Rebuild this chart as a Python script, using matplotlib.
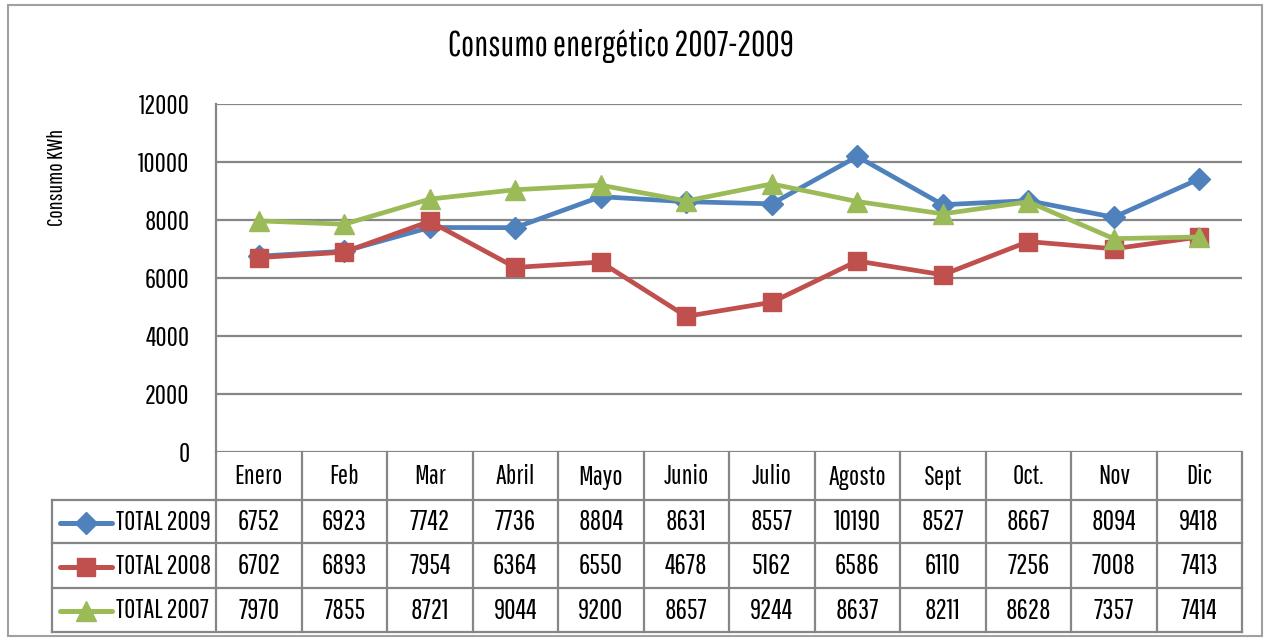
import numpy as np
import matplotlib.pyplot as plt
from matplotlib.lines import Line2D
from matplotlib.patches import Rectangle

plt.rcParams['font.family'] = ['Pathway Gothic One', 'DejaVu Sans']

meses = ['Enero', 'Feb', 'Mar', 'Abril', 'Mayo', 'Junio', 'Julio',
         'Agosto', 'Sept', 'Oct.', 'Nov', 'Dic']
total_2009 = [6752, 6923, 7742, 7736, 8804, 8631, 8557, 10190, 8527, 8667, 8094, 9418]
total_2008 = [6702, 6893, 7954, 6364, 6550, 4678, 5162, 6586, 6110, 7256, 7008, 7413]
total_2007 = [7970, 7855, 8721, 9044, 9200, 8657, 9244, 8637, 8211, 8628, 7357, 7414]

series = [
    ('TOTAL 2009', total_2009, '#4F81BD', 'D', 11),
    ('TOTAL 2008', total_2008, '#C0504D', 's', 13),
    ('TOTAL 2007', total_2007, '#9BBB59', '^', 14),
]

W, H = 1270, 641
fig = plt.figure(figsize=(W / 100, H / 100), dpi=100)

# pixel-space overlay for border, table and labels
ov = fig.add_axes([0, 0, 1, 1], zorder=0)
ov.set_xlim(0, W)
ov.set_ylim(H, 0)
ov.axis('off')

grid_c = '#868686'
ov.add_patch(Rectangle((8, 5), 1254, 631, fill=False, ec='#A0A0A0', lw=1.5))

# plot area
x0, x1 = 216, 1242
y_top, y_bot = 104, 452
ax = fig.add_axes([x0 / W, 1 - y_bot / H, (x1 - x0) / W, (y_bot - y_top) / H], zorder=2)
ax.patch.set_alpha(0)
x = np.arange(len(meses))
for name, vals, col, mk, ms in series:
    ax.plot(x, vals, color=col, lw=3.4, marker=mk, ms=ms, mec=col, mfc=col,
            solid_joinstyle='round')
ax.set_xlim(-0.5, len(meses) - 0.5)
ax.set_ylim(0, 12000)
ax.set_yticks(np.arange(0, 12001, 2000))
ax.set_xticks([])
ax.yaxis.grid(True, color=grid_c, lw=1.6)
ax.set_axisbelow(True)
for s in ['top', 'right', 'bottom']:
    ax.spines[s].set_visible(False)
ax.spines['left'].set_color(grid_c)
ax.spines['left'].set_linewidth(1.6)
ax.tick_params(axis='y', length=0, pad=19, labelsize=19.5)

ov.text(621, 46, 'Consumo energético 2007-2009', ha='center', va='center', fontsize=25)
ov.text(57, 177, 'Consumo KWh', rotation=90, ha='center', va='center', fontsize=16)

# data table
row_y = [452, 500, 543, 588, 632]
leg_x = 52
col_edges = np.linspace(x0, x1, len(meses) + 1)
lw_t = 1.6
# horizontal lines
for yy in row_y[1:]:
    ov.plot([leg_x, x1], [yy, yy], color=grid_c, lw=lw_t)
# vertical lines
for xe in col_edges:
    ov.plot([xe, xe], [row_y[0], row_y[-1]], color=grid_c, lw=lw_t)
ov.plot([leg_x, leg_x], [row_y[1], row_y[-1]], color=grid_c, lw=lw_t)

centers = (col_edges[:-1] + col_edges[1:]) / 2
for c, m in zip(centers, meses):
    ov.text(c, (row_y[0] + row_y[1]) / 2 + 1, m, ha='center', va='center', fontsize=19.5)
for r, (name, vals, col, mk, ms) in enumerate(series):
    yc = (row_y[r + 1] + row_y[r + 2]) / 2 + 1
    ov.add_line(Line2D([60, 112], [yc, yc], color=col, lw=3.6, solid_capstyle='round'))
    ov.plot([86], [yc], marker=mk, ms=ms, color=col)
    ov.text(116, yc, name, ha='left', va='center', fontsize=19.5)
    for c, v in zip(centers, vals):
        ov.text(c, yc, str(v), ha='center', va='center', fontsize=20)

fig.savefig('out.png', dpi=100)
